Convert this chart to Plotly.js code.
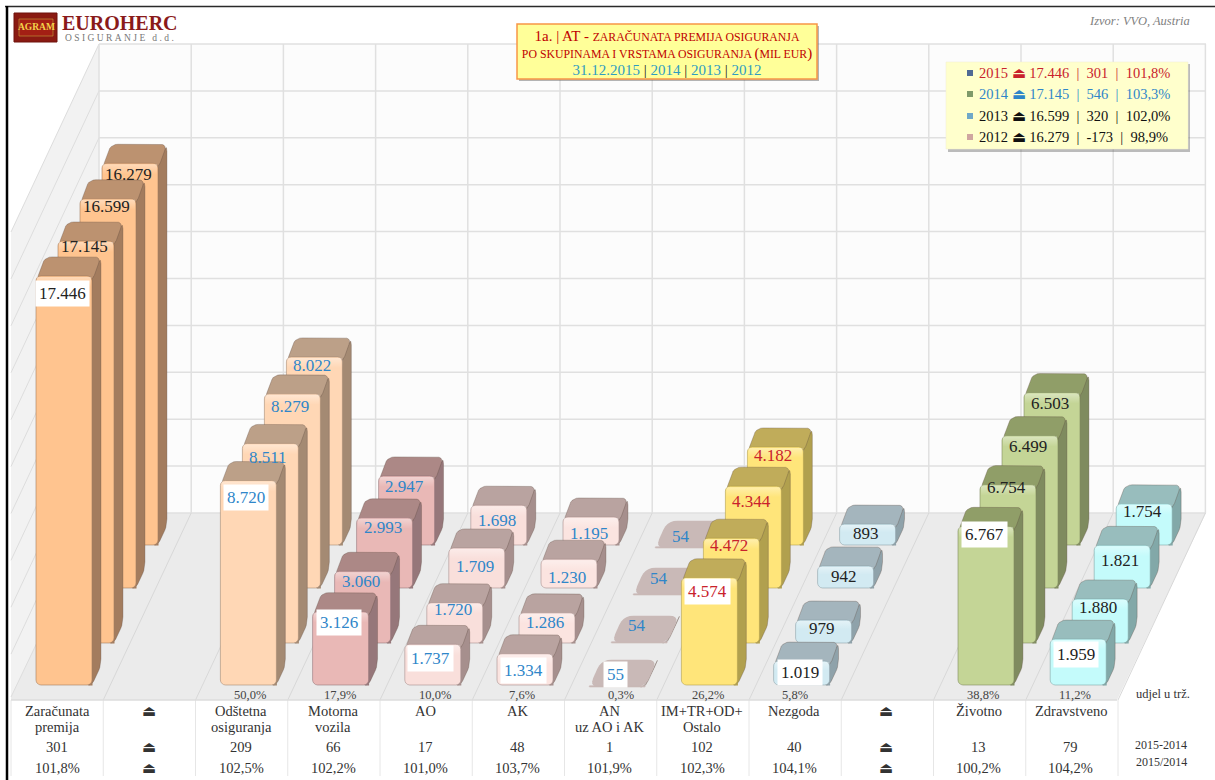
<!DOCTYPE html>
<html><head><meta charset="utf-8">
<script src="https://cdn.plot.ly/plotly-3.0.1.min.js"></script>
<style>html,body{margin:0;padding:0;background:#fff}</style></head>
<body><div id="chart" style="width:1215px;height:780px"></div>
<script>
// ---------- DATA ----------
const categories = ["Zaračunata<br>premija","⏏","Odštetna<br>osiguranja","Motorna<br>vozila","AO","AK","AN<br>uz AO i AK","IM+TR+OD+<br>Ostalo","Nezgoda","⏏","Životno","Zdravstveno"];
const values2015 = [17446,null,8720,3126,1737,1334,55,4574,1019,null,6767,1959];
const values2014 = [17145,null,8511,3060,1720,1286,54,4472,979,null,6754,1880];
const values2013 = [16599,null,8279,2993,1709,1230,54,4344,942,null,6499,1821];
const values2012 = [16279,null,8022,2947,1698,1195,54,4182,893,null,6503,1754];
const shares = ["50,0%","17,9%","10,0%","7,6%","0,3%","26,2%","5,8%","38,8%","11,2%"];
const shareCats = [2,3,4,5,6,7,8,10,11];
const diffs = ["301","⏏","209","66","17","48","1","102","40","⏏","13","79"];
const ratios = ["101,8%","⏏","102,5%","102,2%","101,0%","103,7%","101,9%","102,3%","104,1%","⏏","100,2%","104,2%"];
const legendYears = ["2015","2014","2013","2012"];
const legendTotals = ["17.446","17.145","16.599","16.279"];
const legendDiffs = ["301","546","320","-173"];
const legendRatios = ["101,8%","103,3%","102,0%","98,9%"];

// ---------- STYLE / GEOMETRY ----------
const W=1215,H=780, X0=64, UNIT=92.2, YB=685, SC=0.02345;
const SERIF="'Liberation Serif', serif";
const rowDx=[0,22,44,66], rowBase=[685,643,588,545];
const rows=[values2015,values2014,values2013,values2012];
const FLOOR="#ebebeb";
const BLUE="#2f86c9",RED="#c9222c",INK="#222222";
const catStyle=[
 {f:"#ffc48f",s:"#a37c5e",t:"#bc9270",l:INK,off:[18,6,8,11]},null,
 {f:"#ffd7b5",s:"#a48a73",t:"#bca088",l:BLUE,off:[16.5,14.5,13,9]},
 {f:"#e9b8b6",s:"#96777a",t:"#ac8886",l:BLUE,off:[11,10,10,11]},
 {f:"#f9dfdb",s:"#a68f8d",t:"#b9a3a0",l:BLUE,off:[14,6.5,19,15]},
 {f:"#fbe4e0",s:"#a68f8d",t:"#b9a3a0",l:BLUE,off:[17,10,18,17]},
 {f:"#c9b9b7",s:"#c9b9b7",t:"#c9b9b7",l:BLUE,d:26,r:10,off:[-11,-16,-15,-10],adj:[2,0,7,3]},
 {f:"#ffe57a",s:"#b1a04e",t:"#c0ac5a",l:RED,off:[14,7,15,9]},
 {f:"#d2eaf2",s:"#8fa2aa",t:"#a4b5bd",l:INK,off:[11,8,11,9]},null,
 {f:"#c4d596",s:"#7f8b5f",t:"#909e68",l:INK,off:[8,3,11,10.5]},
 {f:"#c4fbfb",s:"#82a8a8",t:"#98bdbd",l:INK,off:[15,9,15,8]}];
const BW=56, R=5;

const U=p=>(p-X0)/UNIT, V=p=>(YB-p)/SC;
const PX=p=>p/W, PY=p=>1-p/H;
const fmt=v=>String(v).replace(/\B(?=(\d{3})+$)/,".");

function rounded(pts,r){ // rounded polygon in pixels
 const out=[],n=pts.length;
 for(let i=0;i<n;i++){
  const p=pts[i],a=pts[(i+n-1)%n],b=pts[(i+1)%n];
  const la=Math.hypot(a[0]-p[0],a[1]-p[1]),lb=Math.hypot(b[0]-p[0],b[1]-p[1]);
  const ra=Math.min(r,la/2),rb=Math.min(r,lb/2);
  const s=[p[0]+(a[0]-p[0])*ra/la,p[1]+(a[1]-p[1])*ra/la],e=[p[0]+(b[0]-p[0])*rb/lb,p[1]+(b[1]-p[1])*rb/lb];
  for(let k=0;k<=5;k++){const t=k/5;
   out.push([(1-t)*(1-t)*s[0]+2*t*(1-t)*p[0]+t*t*e[0],(1-t)*(1-t)*s[1]+2*t*(1-t)*p[1]+t*t*e[1]]);}
 }
 out.push(out[0]);
 return out;
}
function poly(pts,color,z,line){
 return {type:"scatter",mode:"lines",x:pts.map(p=>U(p[0])),y:pts.map(p=>V(p[1])),fill:"toself",fillcolor:color,
  line:{color:line||color,width:line?1:0},hoverinfo:"skip",showlegend:false,zorder:z};
}

const traces=[],ann=[],shapes=[];
for(let r=3;r>=0;r--){
 const vals=rows[r], zb=(3-r)*3;
 const xs=[],ys=[],bs=[],cols=[],lns=[];
 categories.forEach((c,i)=>{
  const v=vals[i]; if(v==null) return;
  const st=catStyle[i], dep=st.d||19, dx=dep*0.47;
  const cx=X0+UNIT*i+rowDx[r], L=cx-BW/2, Rr=cx+BW/2, B=rowBase[r]+(st.adj?st.adj[r]:0), h=v*SC, T=B-h;
  const ext=Math.min(6,h);
  traces.push(poly(rounded([[Rr-6,B],[Rr,B],[Rr+dx,B-dep],[Rr+dx,T-dep],[Rr,T]],7),st.s,zb,"rgba(90,70,60,.3)"));
  traces.push(poly(rounded([[L,T+ext],[L+dx,T-dep],[Rr+dx,T-dep],[Rr,T+ext]],st.r||7),st.t,zb,st.r?null:"rgba(90,70,60,.3)"));
  xs.push(U(cx)); ys.push(v); bs.push(V(B)); cols.push(st.f); lns.push(st.s);
  if(h>8){
   const gh=Math.min(11,h*0.4);
   traces.push({type:"scatter",mode:"lines",x:[L+1,Rr-1,Rr-1,L+1,L+1].map(U),y:[T+1,T+1,T+gh,T+gh,T+1].map(V),fill:"toself",
     line:{width:0},fillgradient:{type:"vertical",colorscale:[[0,"rgba(255,255,255,0)"],[1,"rgba(255,255,255,.38)"]]},
     hoverinfo:"skip",showlegend:false,zorder:zb+2});
   const q=(x0,sgn,col)=>{const pts=[[x0,B+.5],[x0,B-R],[x0+sgn*.3,B-R*.45],[x0+sgn*R*.55,B-.3],[x0+sgn*R,B+.5]];
     pts.push(pts[0]); traces.push(poly(pts,col,zb+2));};
   q(L-.5,1,FLOOR); q(Rr+.5,-1,st.s);
  }
  const front=r===0;
  ann.push({x:U(cx-2),y:V(T+st.off[r]),xref:"x",yref:"y",text:fmt(v),showarrow:false,xanchor:"center",yanchor:"middle",
    font:{family:SERIF,size:17,color:st.l},bgcolor:front?"#ffffff":"rgba(255,255,255,0)",borderpad:front?3:0});
 });
 traces.push({type:"bar",name:legendYears[r],x:xs,y:ys,base:bs,width:BW/UNIT,zorder:zb+1,hoverinfo:"skip",showlegend:false,
   marker:{color:cols,cornerradius:R,line:{color:lns,width:.6}}});
}

// ---------- WALLS ----------
const GRID="#e0e0e0";
const path=pts=>"M"+pts.map(p=>PX(p[0])+","+PY(p[1])).join("L")+"Z";
const paper=o=>Object.assign({xref:"paper",yref:"paper",layer:"below"},o);
const seg=(x0,y0,x1,y1,color,width)=>paper({type:"line",x0:PX(x0),y0:PY(y0),x1:PX(x1),y1:PY(y1),line:{color,width}});
shapes.push(paper({type:"path",path:path([[99,44],[1206,44],[1206,513],[99,513]]),fillcolor:"#fcfcfc",line:{width:0}}));
shapes.push(paper({type:"path",path:path([[99,44],[99,513],[11,697],[11,232]]),fillcolor:"#f2f2f2",line:{width:0}}));
shapes.push(paper({type:"path",path:path([[99,513],[1206,513],[1117,700],[11,700],[11,697]]),fillcolor:FLOOR,line:{width:0}}));
for(let j=0;j<=10;j++){const y=513-46.9*j;
 shapes.push(seg(99,y,1206,y,GRID,1.5));
 shapes.push(seg(99,y,11,y+(j===0?184:188),"#dddddd",1));
}
for(let i=0;i<=12;i++){
 const xb=99+92.2*i, xf=11+92.25*i;
 shapes.push(seg(xb,44,xb,513,GRID,1.5));
 if(i>0) shapes.push(seg(xb,513,xf,700,"#d8d8d8",1));
 shapes.push(seg(xf,700,xf,776,"#e6e6e6",1));
}
shapes.push(seg(11,700,1117,700,"#dcdcdc",1.5));
shapes.push(seg(5,6.5,1215,6.5,"#2a2a2a",1.5));
shapes.push(seg(7,6,7,780,"#000000",2.5));
shapes.push(paper({type:"rect",x0:PX(14),x1:PX(57),y0:PY(13),y1:PY(42),fillcolor:"#8a1a12",line:{color:"#6e120c",width:1}}));
shapes.push(paper({type:"rect",x0:PX(19),x1:PX(53),y0:PY(19),y1:PY(36),fillcolor:"#a31f14",line:{color:"#c8a23a",width:.6}}));

// ---------- TITLE AND LEGEND BOXES ----------
const above=o=>Object.assign(paper(o),{layer:"above"});
shapes.push(above({type:"rect",x0:PX(519),x1:PX(819),y0:PY(26),y1:PY(81),fillcolor:"rgba(90,90,90,.45)",line:{width:0}}));
shapes.push(above({type:"rect",x0:PX(517),x1:PX(817),y0:PY(24),y1:PY(79),fillcolor:"#ffff99",line:{color:"#f79646",width:1.5}}));
shapes.push(above({type:"rect",x0:PX(948),x1:PX(1190),y0:PY(64),y1:PY(152),fillcolor:"rgba(90,90,90,.4)",line:{width:0}}));
shapes.push(above({type:"rect",x0:PX(946),x1:PX(1188),y0:PY(62),y1:PY(149),fillcolor:"#ffffcc",line:{color:"#f0efd0",width:.5}}));

const legendInk=[RED,BLUE,"#111111","#111111"], legendMark=["#4f6a94","#7f9a6a","#6fa8c8","#cfa6a0"];
const legendY=[73,94,116,137];
const NB="\u00a0";
legendYears.forEach((y,i)=>{
 shapes.push(above({type:"rect",x0:PX(967),x1:PX(973),y0:PY(legendY[i]-3),y1:PY(legendY[i]+3),fillcolor:legendMark[i],line:{width:0}}));
 ann.push({xref:"paper",yref:"paper",x:PX(977),y:PY(legendY[i]),xanchor:"left",yanchor:"middle",showarrow:false,
  text:`${y} ⏏ ${legendTotals[i]} ${NB}|${NB} ${legendDiffs[i]} ${NB}|${NB} ${legendRatios[i]}`,font:{family:SERIF,size:14.5,color:legendInk[i]}});
});

// ---------- TABLE AND TEXTS ----------
const note=(text,x,y,size,color)=>ann.push({xref:"paper",yref:"paper",x:PX(x),y:PY(y),text,showarrow:false,xanchor:"center",yanchor:"middle",
  font:{family:SERIF,size,color}});
categories.forEach((c,i)=>{
 const x=57+92.15*i, TXT="#333333";
 c.split("<br>").forEach((line,k)=>note(line,x,711+16*k,14.5,TXT));
 note(diffs[i],x,747,14.5,TXT);
 note(ratios[i],x,768,14.5,TXT);
});
const shareX=[250,340,435,522,621,708,795,983,1075];
shareCats.forEach((c,i)=>note(shares[i],shareX[i],695,12.5,"#444444"));
note("udjel u trž.",1163,694,12.5,"#333333");
note("2015-2014",1161,745,12,"#333333");
note("2015/2014",1161,762,12,"#333333");
note("<i>Izvor: VVO, Austria</i>",1139,21,12.5,"#808080");
note("<b>EUROHERC</b>",120,23,20,"#8a1a1a");
note('<span style="letter-spacing:2.4px">OSIGURANJE d.d.</span>',120,37.5,9.5,"#777777");
note("<b>AGRAM</b>",36,27,9.5,"#f3d24a");

const S='<span style="font-size:11.8px">', BIG='<span style="font-size:15px">';
const titleText=BIG+'1a. | AT - </span>'+S+'ZARAČUNATA PREMIJA OSIGURANJA</span><br>'+
 S+'PO SKUPINAMA I VRSTAMA OSIGURANJA </span>'+BIG+'(</span>'+S+'MIL EUR</span>'+BIG+')</span><br>'+
 '<span style="font-size:15px;fill:#2f9cc0;color:#2f9cc0">31.12.2015 <span style="fill:#222">|</span> 2014 <span style="fill:#222">|</span> 2013 <span style="fill:#222">|</span> 2012</span>';

Plotly.newPlot("chart",traces,{
 width:W,height:H,margin:{l:0,r:0,t:0,b:0,pad:0},paper_bgcolor:"#ffffff",plot_bgcolor:"rgba(0,0,0,0)",
 title:{text:titleText,x:PX(667),xref:"paper",xanchor:"center",y:PY(41),yref:"paper",yanchor:"middle",font:{family:SERIF,size:13,color:"#c00000"}},
 showlegend:false,barmode:"overlay",hovermode:false,
 xaxis:{visible:false,range:[U(0),U(W)],fixedrange:true},
 yaxis:{visible:false,range:[V(H),V(0)],fixedrange:true},
 shapes,annotations:ann
},{displayModeBar:false,staticPlot:true});
</script></body></html>
